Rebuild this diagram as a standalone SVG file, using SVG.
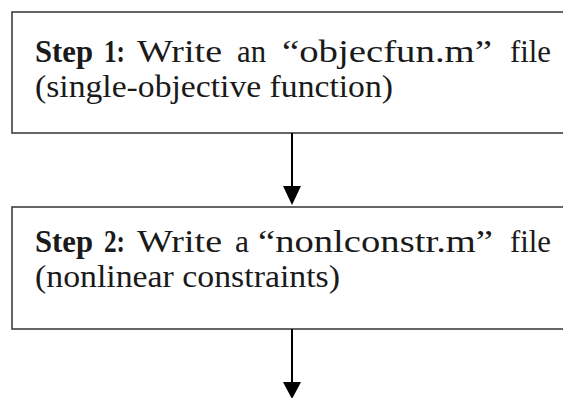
<svg xmlns="http://www.w3.org/2000/svg" width="563" height="398" viewBox="0 0 563 398">
<defs>
<style>
.box{fill:#ffffff;stroke:#333333;stroke-width:1.5}
.t{font-family:"Liberation Serif","DejaVu Serif",serif;font-size:31px;fill:#1a1a1a}
.b{font-weight:bold}
.c{stroke:#000;stroke-width:2;fill:none}
.h{fill:#000}
</style>
</defs>
<rect width="563" height="398" fill="#ffffff"/>
<g id="step1">
<rect class="box" x="12" y="12" width="560" height="121"/>
<text class="t" y="62"><tspan class="b" x="35" textLength="58" lengthAdjust="spacingAndGlyphs">Step</tspan><tspan class="b" x="104" textLength="21" lengthAdjust="spacingAndGlyphs">1:</tspan><tspan x="137" textLength="85" lengthAdjust="spacingAndGlyphs">Write</tspan><tspan x="237" textLength="29" lengthAdjust="spacingAndGlyphs">an</tspan><tspan x="282" textLength="210" lengthAdjust="spacingAndGlyphs">“objecfun.m”</tspan><tspan x="510" textLength="41" lengthAdjust="spacingAndGlyphs">file</tspan></text>
<text class="t" x="35" y="97" textLength="358" lengthAdjust="spacingAndGlyphs">(single-objective function)</text>
</g>
<g id="step2">
<rect class="box" x="12" y="207" width="560" height="122"/>
<text class="t" y="252"><tspan class="b" x="35" textLength="58" lengthAdjust="spacingAndGlyphs">Step</tspan><tspan class="b" x="104" textLength="21" lengthAdjust="spacingAndGlyphs">2:</tspan><tspan x="137" textLength="85" lengthAdjust="spacingAndGlyphs">Write</tspan><tspan x="235" textLength="14" lengthAdjust="spacingAndGlyphs">a</tspan><tspan x="258" textLength="235" lengthAdjust="spacingAndGlyphs">“nonlconstr.m”</tspan><tspan x="510" textLength="41" lengthAdjust="spacingAndGlyphs">file</tspan></text>
<text class="t" x="35" y="287" textLength="305" lengthAdjust="spacingAndGlyphs">(nonlinear constraints)</text>
</g>
<g id="connectors">
<line class="c" x1="292" y1="133" x2="292" y2="188"/>
<polygon class="h" points="283,186 301,186 292,205"/>
<line class="c" x1="292" y1="329" x2="292" y2="384"/>
<polygon class="h" points="283,382 301,382 292,399"/>
</g>
</svg>
